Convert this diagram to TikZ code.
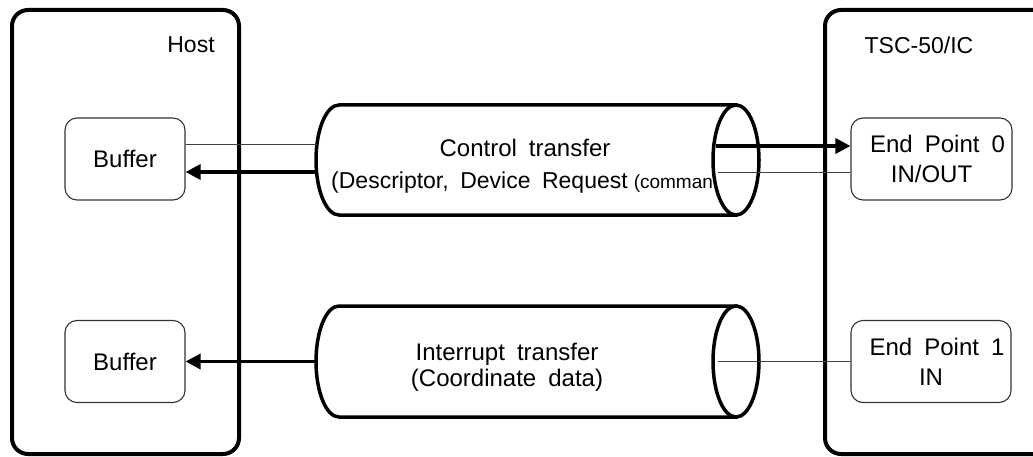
\documentclass[tikz,border=0pt]{standalone}
\usepackage{fontspec}
\setmainfont{Liberation Sans}[WordSpace=1.8]
\usetikzlibrary{arrows.meta}
\begin{document}
\begin{tikzpicture}[x=1pt,y=1pt,
  bigbox/.style={draw=black, line width=4pt, rounded corners=16pt},
  smallbox/.style={draw=black!80, line width=1.1pt, rounded corners=12pt, align=center,
     font=\fontsize{24}{30}\selectfont, inner sep=0pt},
  cyl/.style={draw=black, line width=3.5pt, fill=white},
  thinline/.style={draw=black!75, line width=1pt},
  thickarrow/.style={draw=black, line width=3.5pt, -{Triangle[length=15pt,width=15pt]}},
  lbl/.style={font=\fontsize{23}{28}\selectfont, inner sep=0pt}
]
\useasboundingbox (0,0) rectangle (1033,456);
\clip (0,0) rectangle (1033,456);
% outer boxes
\draw[bigbox] (12,2) rectangle (239,446);
\draw[bigbox] (825,2) rectangle (1050,446);
\node[lbl] (host) at (191,411) {Host};
\node[lbl] (tsc) at (919,411) {TSC-50/IC};
% inner boxes
\node[smallbox, minimum width=120pt, minimum height=82pt] (buf1) at (125,297) {Buffer};
\node[smallbox, minimum width=120pt, minimum height=82pt] (buf2) at (125,94.5) {Buffer};
\node[smallbox, minimum width=161pt, minimum height=82pt] (ep0) at (931.5,297) {\hspace*{12pt}End Point 0\\IN/OUT};
\node[smallbox, minimum width=160pt, minimum height=82pt] (ep1) at (931,94.5) {\hspace*{12pt}End Point 1\\IN};
% top cylinder
\draw[cyl] (339,351) -- (736,351) -- (736,241) -- (339,241)
  arc[start angle=270, end angle=90, x radius=23pt, y radius=55pt] -- cycle;
\node[font=\fontsize{24}{30}\selectfont, inner sep=0pt] (ct) at (525,308) {Control transfer};
\node[font=\fontsize{23}{28}\selectfont, inner sep=0pt, anchor=west] (cd) at (331,273)
  {(Descriptor, Device Request\hspace{6pt}{\fontsize{19}{24}\selectfont (comman}};
\draw[cyl] (736,296) ellipse [x radius=23pt, y radius=55pt];
% bottom cylinder
\draw[cyl] (339,150) -- (736,150) -- (736,39) -- (339,39)
  arc[start angle=270, end angle=90, x radius=23pt, y radius=55.5pt] -- cycle;
\draw[cyl] (736,94.5) ellipse [x radius=23pt, y radius=55.5pt];
\node[font=\fontsize{24}{26}\selectfont, inner sep=0pt, align=center] (it) at (507,89)
  {Interrupt transfer\\(Coordinate data)};
% connection points on cylinders
\coordinate (t1) at (317,311);
\coordinate (t2) at (316.6,284);
\coordinate (t3) at (716,310);
\coordinate (t4) at (718,284);
\coordinate (b1) at (316,94.5);
\coordinate (b2) at (718,94.5);
% connectors
\draw[thinline] (t1) -- (t1 -| buf1.east);
\draw[thickarrow] (t2) -- (t2 -| buf1.east);
\draw[thickarrow] (t3) -- (t3 -| ep0.west);
\draw[thinline] (t4) -- (t4 -| ep0.west);
\draw[thickarrow] (b1) -- (b1 -| buf2.east);
\draw[thinline] (b2) -- (b2 -| ep1.west);
\end{tikzpicture}
\end{document}
